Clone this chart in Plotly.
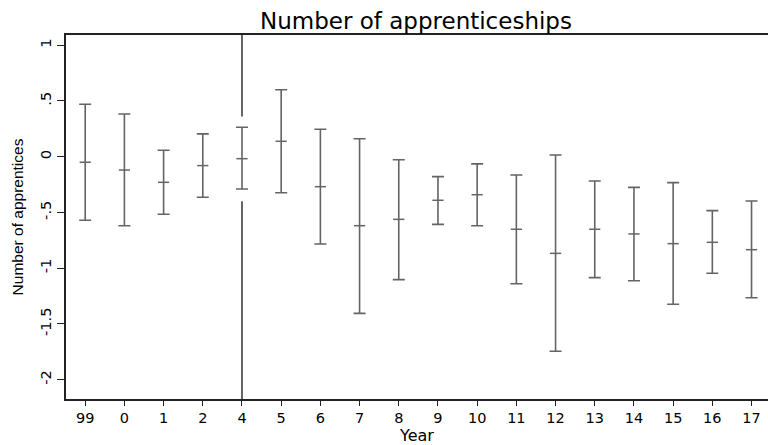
import plotly.graph_objects as go

# Event-study estimates: number of apprentices by year (reference year 3 omitted)
year_labels = ["99", "0", "1", "2", "4", "5", "6", "7", "8", "9",
               "10", "11", "12", "13", "14", "15", "16", "17"]
coef = [-0.05, -0.12, -0.23, -0.08, -0.018, 0.138, -0.269, -0.619, -0.562, -0.391,
        -0.341, -0.651, -0.867, -0.651, -0.693, -0.78, -0.768, -0.834]
ci_upper = [0.47, 0.383, 0.057, 0.204, 0.264, 0.60, 0.246, 0.161, -0.027, -0.179,
            -0.065, -0.164, 0.015, -0.218, -0.275, -0.233, -0.484, -0.397]
ci_lower = [-0.57, -0.62, -0.517, -0.364, -0.29, -0.323, -0.783, -1.405, -1.103, -0.607,
            -0.619, -1.139, -1.745, -1.085, -1.112, -1.324, -1.046, -1.265]

y_ticks = [1, 0.5, 0, -0.5, -1, -1.5, -2]
y_tick_text = ["1", ".5", "0", "-.5", "-1", "-1.5", "-2"]

# reference marker position (year 4) and its break around the interval
vline_pos = 4
vline_gap = (-0.40, 0.36)

x = list(range(len(year_labels)))
err_plus = [u - c for u, c in zip(ci_upper, coef)]
err_minus = [c - l for c, l in zip(coef, ci_lower)]

bar_color = "#646464"
wide = "DejaVu Sans, Verdana, sans-serif"
narrow = "Liberation Sans, Arial, sans-serif"

fig = go.Figure()
fig.add_trace(go.Scatter(
    x=x, y=coef, mode="markers",
    marker=dict(symbol="line-ew", size=8, line=dict(color=bar_color, width=1.5)),
    error_y=dict(type="data", symmetric=False, array=err_plus, arrayminus=err_minus,
                 color=bar_color, thickness=1.6, width=6),
    showlegend=False, hoverinfo="skip",
))

y_min, y_max = -2.173, 1.091
for y0, y1 in [(y_min, vline_gap[0]), (vline_gap[1], y_max)]:
    fig.add_shape(type="line", xref="x", yref="y", x0=vline_pos, x1=vline_pos,
                  y0=y0, y1=y1, line=dict(color="#333333", width=1.5), layer="below")

fig.update_layout(
    width=768, height=445,
    margin=dict(l=66, r=0, t=35, b=46),
    paper_bgcolor="white", plot_bgcolor="white",
    font=dict(family=wide, color="black", size=14),
    title=dict(text="Number of apprenticeships", x=416 / 768, xanchor="center",
               y=1 - 20.5 / 445, yanchor="middle",
               font=dict(size=23, family=wide, color="black")),
    xaxis=dict(
        range=[-0.49, 17.42], tickmode="array", tickvals=x, ticktext=year_labels,
        showgrid=False, zeroline=False, showline=True, mirror=True,
        linecolor="#222222", linewidth=1.5, ticks="outside", ticklen=5,
        tickcolor="#222222", tickfont=dict(size=14.5, family=wide),
        title=dict(text="Year", font=dict(size=16, family=wide), standoff=1),
    ),
    yaxis=dict(
        range=[y_min, y_max], tickmode="array", tickvals=y_ticks, ticktext=y_tick_text,
        tickangle=-90, showgrid=False, zeroline=False, showline=True,
        linecolor="#222222", linewidth=1.5, ticks="outside", ticklen=7,
        tickcolor="#222222", tickfont=dict(size=14.7, family=wide),
        title=dict(text="Number of apprentices", font=dict(size=15.5, family=narrow),
                   standoff=10),
    ),
)

fig.write_html("out.html")
